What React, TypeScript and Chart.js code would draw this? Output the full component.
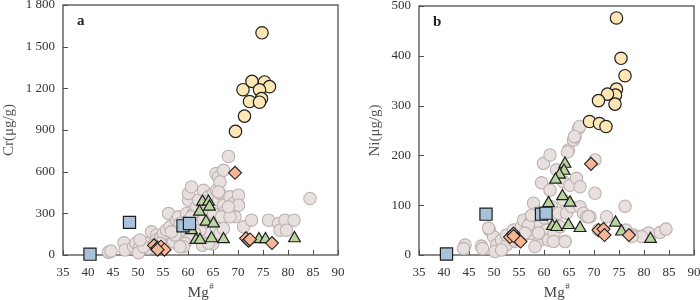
import React, { useEffect, useRef } from "react";
import { Chart, registerables } from "chart.js";

Chart.register(...registerables);

const FONT = "'Liberation Serif', 'Times New Roman', Times, serif";

// ---------- Panel a : Cr vs Mg# ----------
const crGreyMg = [44.1, 44.6, 47.2, 47.4, 49.1, 49.6, 50.3, 50.1, 51.7, 52.1, 52.7, 53.7, 53.7, 54.6, 55.1, 56.1, 55.7, 56.4, 57.1, 57.7, 58.1, 58.4, 58.9, 59.1, 59.4, 59.7, 60.1, 60.1, 60.7, 61.1, 61.7, 62.1, 63.1, 64.1, 64.4, 65.1, 65.7, 66.1, 66.4, 65.6, 66.1, 67.1, 68.1, 66.4, 67.1, 67.4, 68.4, 69.1, 69.4, 70.1, 70.1, 71.1, 72.7, 76.1, 78.1, 78.4, 79.4, 79.7, 81.2, 84.4, 63.1, 63.7, 64.4, 62.4, 65.4, 61.4, 60.4, 59.4, 57.7, 57.1, 54.4, 53.1, 57.4, 59.7, 60.7, 63.1, 65.1, 65.7, 66.4, 66.7, 68.4, 51.1, 50.4, 59.1, 58.4, 56.7, 62.9, 64.9, 68.1, 67.1, 64.1, 66.1];
const crGreyCr = [19, 28, 88, 36, 60, 84, 48, 17, 84, 48, 167, 144, 108, 127, 155, 299, 179, 203, 155, 251, 275, 227, 155, 108, 179, 299, 395, 443, 490, 299, 347, 395, 466, 419, 395, 443, 466, 395, 443, 586, 562, 610, 710, 526, 359, 311, 419, 371, 275, 431, 359, 203, 251, 251, 227, 179, 251, 179, 251, 407, 299, 108, 155, 179, 275, 155, 132, 84, 84, 96, 84, 72, 144, 239, 275, 251, 299, 179, 155, 275, 275, 60, 108, 60, 60, 167, 70, 80, 347, 191, 84, 454];

const crYellowMg = [74.8, 69.5, 71.3, 71.0, 72.8, 72.3, 75.3, 76.3, 74.3, 74.7, 74.3];
const crYellowCr = [1600, 890, 1000, 1190, 1250, 1105, 1246, 1212, 1189, 1126, 1100];

const crTriMg = [62.9, 64.1, 64.3, 62.3, 63.6, 65.1, 60.7, 61.6, 62.4, 64.7, 67.1, 74.2, 75.5, 81.3];
const crTriCr = [383, 383, 347, 311, 239, 227, 179, 108, 108, 120, 113, 113, 113, 120];

const crSquareMg = [40.4, 48.3, 59.0, 60.3];
const crSquareCr = [6, 235, 210, 227];

const crDiamondMg = [69.4, 53.2, 53.9, 54.6, 55.3, 53.9, 71.6, 72.1, 72.4, 76.8];
const crDiamondCr = [592, 70, 52, 60, 38, 38, 120, 103, 112, 86];

// ---------- Panel b : Ni vs Mg# ----------
const niGreyMg = [44.2, 43.9, 47.5, 47.7, 49.1, 49.9, 50.5, 50.2, 51.5, 52.5, 52.5, 53.9, 54.2, 55.2, 55.5, 55.9, 56.5, 57.2, 57.5, 57.9, 58.5, 58.9, 59.2, 59.5, 59.9, 59.5, 60.2, 60.5, 60.9, 61.2, 61.2, 61.5, 61.9, 62.0, 62.5, 62.9, 63.2, 63.9, 63.9, 64.2, 64.5, 64.9, 65.2, 65.5, 65.9, 66.2, 66.9, 66.5, 67.2, 67.2, 67.9, 68.5, 69.2, 70.2, 70.2, 70.9, 72.5, 76.2, 76.4, 77.9, 79.9, 81.2, 83.2, 84.4, 58.2, 61.9, 56.9, 57.5, 48.9, 51.5, 53.9, 56.2, 58.9, 67.1, 66.1, 64.7, 68.9, 80.9, 79.5, 77.6, 64.2];
const niGreyNi = [20, 13, 18, 13, 50, 37, 20, 7, 30, 20, 40, 50, 27, 37, 57, 70, 43, 64, 43, 104, 84, 57, 30, 43, 184, 145, 74, 50, 30, 201, 130, 97, 70, 43, 171, 84, 57, 110, 147, 27, 84, 211, 140, 97, 231, 237, 254, 154, 137, 97, 84, 77, 77, 191, 124, 50, 77, 98, 50, 40, 38, 37, 45, 52, 17, 27, 60, 80, 54, 10, 30, 44, 44, 258, 238, 207, 77, 44, 37, 37, 27];

const niYellowMg = [74.5, 75.4, 76.2, 74.5, 74.3, 74.2, 72.7, 70.9, 69.1, 71.1, 72.4];
const niYellowNi = [476, 395, 360, 333, 321, 303, 323, 310, 268, 264, 258];

const niTriMg = [64.2, 64.0, 63.1, 62.3, 63.7, 65.2, 60.9, 61.7, 62.5, 64.9, 67.2, 74.3, 75.5, 81.3];
const niTriNi = [183, 169, 161, 151, 118, 105, 104, 58, 56, 60, 54, 65, 47, 32];

const niSquareMg = [40.5, 48.4, 59.5, 60.4];
const niSquareNi = [2, 82, 82, 84];

const niDiamondMg = [69.4, 53.2, 53.9, 54.6, 55.3, 53.9, 70.9, 71.9, 72.1, 77.0];
const niDiamondNi = [183, 36, 43, 33, 27, 38, 50, 52, 40, 40];

const xTickValues = [35, 40, 45, 50, 55, 60, 65, 70, 75, 80, 85, 90];

const zip = (xs: number[], ys: number[]) => xs.map((x, i) => ({ x, y: ys[i] }));

const fmt = (v: number) =>
  v >= 1000 ? `${Math.floor(v / 1000)} ${String(v % 1000).padStart(3, "0")}` : String(v);

const framePlugin = {
  id: "frame",
  beforeDatasetsDraw(chart: any) {
    const { ctx, chartArea: a, scales } = chart;
    ctx.save();
    ctx.strokeStyle = "#4d4d4d";
    ctx.lineWidth = 1.3;
    ctx.strokeRect(a.left, a.top, a.right - a.left, a.bottom - a.top);
    ctx.lineWidth = 1;
    const xs = scales.x;
    xs.ticks.forEach((t: any) => {
      const px = Math.round(xs.getPixelForValue(t.value)) + 0.5;
      ctx.beginPath();
      ctx.moveTo(px, a.bottom);
      ctx.lineTo(px, a.bottom - 5);
      ctx.stroke();
    });
    const ys = scales.y;
    ys.ticks.forEach((t: any) => {
      const py = Math.round(ys.getPixelForValue(t.value)) + 0.5;
      ctx.beginPath();
      ctx.moveTo(a.left, py);
      ctx.lineTo(a.left + 5, py);
      ctx.stroke();
    });
    ctx.restore();
  },
  afterDraw(chart: any, _args: any, opts: any) {
    const { ctx, chartArea: a } = chart;
    ctx.save();
    ctx.fillStyle = "#222";
    ctx.font = `bold 15px ${FONT}`;
    ctx.textBaseline = "alphabetic";
    ctx.textAlign = "left";
    ctx.fillText(opts.letter, a.left + 14, a.top + 20);
    // x title Mg#
    ctx.fillStyle = "#444";
    ctx.font = `15px ${FONT}`;
    const main = "Mg";
    const wMain = ctx.measureText(main).width;
    ctx.font = `9px ${FONT}`;
    const wSup = ctx.measureText("#").width;
    const cx = (a.left + a.right) / 2;
    const x0 = cx - (wMain + wSup) / 2;
    const base = 297;
    ctx.font = `15px ${FONT}`;
    ctx.fillText(main, x0, base);
    ctx.font = `9px ${FONT}`;
    ctx.fillText("#", x0 + wMain + 0.5, base - 8);
    ctx.restore();
  },
};

type Pt = { x: number; y: number };
type PanelProps = {
  letter: string;
  yTitle: string;
  yMax: number;
  yStep: number;
  padLeft: number;
  padRight: number;
  padTop: number;
  yWidth: number;
  grey: Pt[];
  yellow: Pt[];
  tri: Pt[];
  square: Pt[];
  diamond: Pt[];
};

function Panel(p: PanelProps) {
  const ref = useRef<HTMLCanvasElement>(null);
  useEffect(() => {
    if (!ref.current) return;
    const dark = "#1e1e1e";
    const chart = new Chart(ref.current, {
      type: "scatter",
      data: {
        datasets: [
          {
            label: "diamond",
            data: p.diamond,
            pointStyle: "rectRot",
            pointRadius: 6.5,
            backgroundColor: "#f5b597",
            borderColor: dark,
            borderWidth: 1.1,
            clip: false,
            order: 1,
          },
          {
            label: "square",
            data: p.square,
            pointStyle: "rect",
            pointRadius: 8.6,
            backgroundColor: "#a9c2db",
            borderColor: dark,
            borderWidth: 1.2,
            clip: false,
            order: 2,
          },
          {
            label: "triangle",
            data: p.tri,
            pointStyle: "triangle",
            pointRadius: 6.8,
            backgroundColor: "#b7d59d",
            borderColor: dark,
            borderWidth: 1.2,
            clip: false,
            order: 3,
          },
          {
            label: "yellow",
            data: p.yellow,
            pointStyle: "circle",
            pointRadius: 6.2,
            backgroundColor: "#fde7b5",
            borderColor: dark,
            borderWidth: 1.2,
            clip: false,
            order: 4,
          },
          {
            label: "grey",
            data: p.grey,
            pointStyle: "circle",
            pointRadius: 6.2,
            backgroundColor: "#e7e0de",
            borderColor: "#bdb2b0",
            borderWidth: 1.1,
            clip: false,
            order: 5,
          },
        ],
      },
      options: {
        animation: false,
        responsive: false,
        maintainAspectRatio: false,
        events: [],
        layout: {
          autoPadding: false,
          padding: { left: p.padLeft, right: p.padRight, top: p.padTop, bottom: 0 },
        },
        plugins: {
          legend: { display: false },
          tooltip: { enabled: false },
          frame: { letter: p.letter },
        } as any,
        scales: {
          x: {
            type: "linear",
            min: 35,
            max: 90,
            afterBuildTicks: (s: any) => {
              s.ticks = xTickValues.map((v) => ({ value: v }));
            },
            afterFit: (s: any) => {
              s.height = 45;
              s.paddingLeft = 0;
              s.paddingRight = 0;
              s.paddingTop = 0;
              s.paddingBottom = 0;
            },
            grid: { display: false, drawTicks: false },
            border: { display: false },
            ticks: {
              padding: 10,
              color: "#333",
              font: { family: FONT, size: 13 },
              maxRotation: 0,
              autoSkip: false,
            },
          },
          y: {
            type: "linear",
            min: 0,
            max: p.yMax,
            afterFit: (s: any) => {
              s.width = p.yWidth;
              s.paddingLeft = 0;
              s.paddingRight = 0;
              s.paddingTop = 0;
              s.paddingBottom = 0;
            },
            grid: { display: false, drawTicks: false },
            border: { display: false },
            ticks: {
              stepSize: p.yStep,
              padding: 8,
              color: "#333",
              font: { family: FONT, size: 13 },
              callback: (v: any) => fmt(Number(v)),
            },
            title: {
              display: true,
              text: p.yTitle,
              color: "#555",
              font: { family: FONT, size: 15 },
              padding: { top: 0, bottom: 0 },
            },
          },
        },
      },
      plugins: [framePlugin as any],
    });
    return () => chart.destroy();
  }, []);
  return <canvas ref={ref} width={350} height={300} style={{ display: "block", width: 350, height: 300 }} />;
}

export default function App() {
  return (
    <div
      style={{
        position: "fixed",
        left: 0,
        top: 0,
        width: 700,
        height: 300,
        display: "flex",
        background: "#fff",
      }}
    >
      <Panel
        letter="a"
        yTitle="Cr(μg/g)"
        yMax={1800}
        yStep={300}
        padLeft={0}
        padRight={12}
        padTop={5}
        yWidth={63}
        grey={zip(crGreyMg, crGreyCr)}
        yellow={zip(crYellowMg, crYellowCr)}
        tri={zip(crTriMg, crTriCr)}
        square={zip(crSquareMg, crSquareCr)}
        diamond={zip(crDiamondMg, crDiamondCr)}
      />
      <Panel
        letter="b"
        yTitle="Ni(μg/g)"
        yMax={500}
        yStep={100}
        padLeft={16}
        padRight={6}
        padTop={6}
        yWidth={53}
        grey={zip(niGreyMg, niGreyNi)}
        yellow={zip(niYellowMg, niYellowNi)}
        tri={zip(niTriMg, niTriNi)}
        square={zip(niSquareMg, niSquareNi)}
        diamond={zip(niDiamondMg, niDiamondNi)}
      />
    </div>
  );
}
